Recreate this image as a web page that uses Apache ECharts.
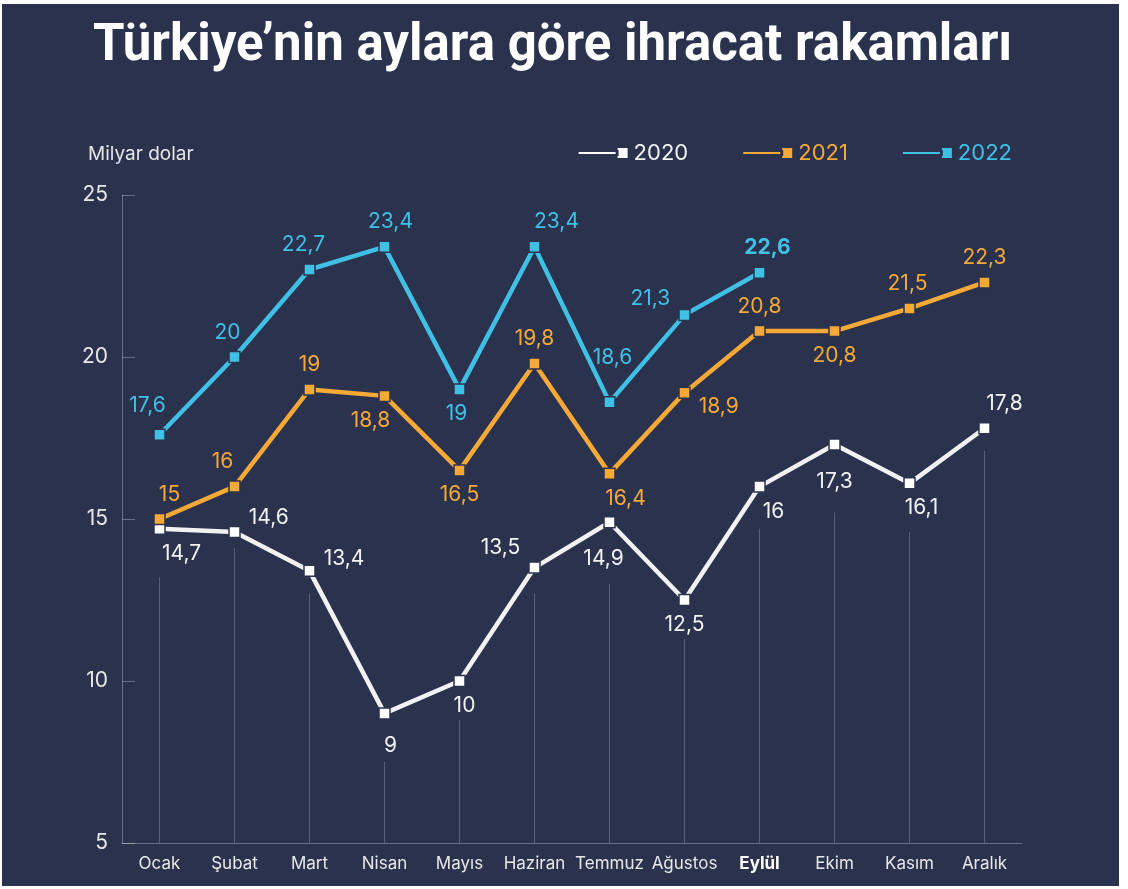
<!DOCTYPE html>
<html>
<head>
<meta charset="utf-8">
<script src="https://cdn.jsdelivr.net/npm/echarts@6/dist/echarts.min.js"></script>
<style>
  html, body { margin: 0; padding: 0; background: #ffffff; }
  #chart { position: absolute; left: 2px; top: 4px; width: 1117px; height: 882px; background: #2a324e; }
</style>
</head>
<body>
<div id="chart"></div>
<script>
var months = ['Ocak', 'Şubat', 'Mart', 'Nisan', 'Mayıs', 'Haziran', 'Temmuz', 'Ağustos', 'Eylül', 'Ekim', 'Kasım', 'Aralık'];
var exports2020 = [14.7, 14.6, 13.4, 9, 10, 13.5, 14.9, 12.5, 16, 17.3, 16.1, 17.8];
var exports2021 = [15, 16, 19, 18.8, 16.5, 19.8, 16.4, 18.9, 20.8, 20.8, 21.5, 22.3];
var exports2022 = [17.6, 20, 22.7, 23.4, 19, 23.4, 18.6, 21.3, 22.6];
// height of the thin guide lines under the 2020 points
var guideTops = [13.2, 14.1, 12.7, 7.5, 8.8, 12.7, 13.0, 11.3, 14.7, 15.2, 14.6, 17.1];

var BG = '#2a324e';
var WHITE = '#f2f2f2';
var ORANGE = '#f6a937';
var BLUE = '#41c0e6';
var FONT = 'Inter';

// label placement: [position, dx, dy]
var pos2020 = [['bottom', 22, 0], ['right', 0, -14], ['right', 0, -12], ['bottom', 6, 8], ['bottom', 5, 0], ['left', 0, -20],
    ['bottom', -6, 12], ['bottom', 0, 0], ['bottom', 14, 0], ['bottom', 0, 12], ['bottom', 12, 0], ['top', 20, 0]];
var pos2021 = [['top', 10, 0], ['top', -12, 0], ['top', 0, 0], ['bottom', -14, 0], ['bottom', 0, 0], ['top', 0, 0],
    ['bottom', 16, 0], ['right', 0, 14], ['top', 0, 0], ['bottom', 0, 0], ['top', -2, 0], ['top', 0, 0]];
var pos2022 = [['top', -12, -4], ['top', -7, 0], ['top', -6, 0], ['top', 6, 0], ['bottom', -3, 0], ['top', 22, 0],
    ['top', 3, -20], ['left', 0, -16], ['top', 8, 0]];

function buildData(values, positions, boldIndex) {
    var out = [];
    for (var i = 0; i < values.length; i++) {
        var p = positions[i];
        out.push({
            value: values[i],
            label: {
                position: p[0],
                offset: [p[1], p[2]],
                fontWeight: i === boldIndex ? 'bold' : 'normal'
            }
        });
    }
    return out;
}

function fmt(p) {
    return String(p.value).replace('.', ',');
}

var guideLines = [];
for (var g = 0; g < months.length; g++) {
    guideLines.push([{ coord: [g, 5] }, { coord: [g, guideTops[g]] }]);
}

var legendIcon = 'path://M0,4 L40,4 L40,8 L0,8 Z M39,0 L51,0 L51,12 L39,12 Z';

var dom = document.getElementById('chart');
var myChart = echarts.init(dom, null, { renderer: 'canvas' });

var option = {
    backgroundColor: BG,
    animation: false,
    title: [
        {
            text: 'Türkiye’nin aylara göre ihracat rakamları',
            left: 86,
            top: 13,
            textStyle: { color: '#ffffff', fontSize: 51, fontWeight: 'bold', fontFamily: 'Roboto' }
        },
        {
            text: 'Milyar dolar',
            left: 81,
            top: 136,
            textStyle: { color: '#e6e6e6', fontSize: 19, fontWeight: 'normal', fontFamily: FONT }
        }
    ],
    legend: {
        right: 102,
        top: 133,
        itemWidth: 51,
        itemHeight: 12,
        itemGap: 53,
        icon: legendIcon,
        textStyle: { fontSize: 22, fontFamily: FONT },
        data: [
            { name: '2020', textStyle: { color: WHITE } },
            { name: '2021', textStyle: { color: ORANGE } },
            { name: '2022', textStyle: { color: BLUE } }
        ]
    },
    grid: { left: 120, right: 97, top: 191, bottom: 43 },
    xAxis: {
        type: 'category',
        data: months,
        boundaryGap: true,
        axisLine: { lineStyle: { color: 'rgba(255,255,255,0.3)', width: 1 } },
        axisTick: { show: false },
        axisLabel: {
            interval: 0,
            color: '#e8e8e8',
            fontSize: 17,
            fontFamily: FONT,
            margin: 12,
            formatter: function (v) { return v === 'Eylül' ? '{b|' + v + '}' : v; },
            rich: { b: { fontWeight: 'bold', fontSize: 17, color: '#ffffff', fontFamily: FONT } }
        }
    },
    yAxis: {
        type: 'value',
        min: 5,
        max: 25,
        interval: 5,
        axisLine: { show: true, lineStyle: { color: 'rgba(255,255,255,0.3)', width: 1 } },
        axisTick: { show: true, inside: true, length: 13, lineStyle: { color: 'rgba(255,255,255,0.3)' } },
        splitLine: { show: false },
        axisLabel: { color: '#e8e8e8', fontSize: 21, fontFamily: FONT, margin: 14 }
    },
    series: [
        {
            name: '2020',
            type: 'line',
            data: buildData(exports2020, pos2020, -1),
            color: WHITE,
            symbol: 'rect',
            symbolSize: 11,
            lineStyle: { width: 4.5, color: WHITE },
            itemStyle: { color: '#ffffff', borderColor: BG, borderWidth: 1.5 },
            label: { show: true, color: WHITE, fontSize: 21, fontFamily: FONT, distance: 8, formatter: fmt },
            z: 3,
            markLine: {
                silent: true,
                symbol: 'none',
                label: { show: false },
                lineStyle: { color: 'rgba(255,255,255,0.22)', width: 1, type: 'solid' },
                data: guideLines
            }
        },
        {
            name: '2021',
            type: 'line',
            data: buildData(exports2021, pos2021, -1),
            color: ORANGE,
            symbol: 'rect',
            symbolSize: 11,
            lineStyle: { width: 4.5, color: ORANGE },
            itemStyle: { color: ORANGE, borderColor: BG, borderWidth: 1.5 },
            label: { show: true, color: ORANGE, fontSize: 21, fontFamily: FONT, distance: 8, formatter: fmt },
            z: 4
        },
        {
            name: '2022',
            type: 'line',
            data: buildData(exports2022, pos2022, 8),
            color: BLUE,
            symbol: 'rect',
            symbolSize: 11,
            lineStyle: { width: 4.5, color: BLUE },
            itemStyle: { color: BLUE, borderColor: BG, borderWidth: 1.5 },
            label: { show: true, color: BLUE, fontSize: 21, fontFamily: FONT, distance: 8, formatter: fmt },
            z: 5
        }
    ]
};

if (option && typeof option === 'object') {
    myChart.setOption(option);
}

window.addEventListener('resize', function () {
    myChart.resize();
});
</script>
</body>
</html>
